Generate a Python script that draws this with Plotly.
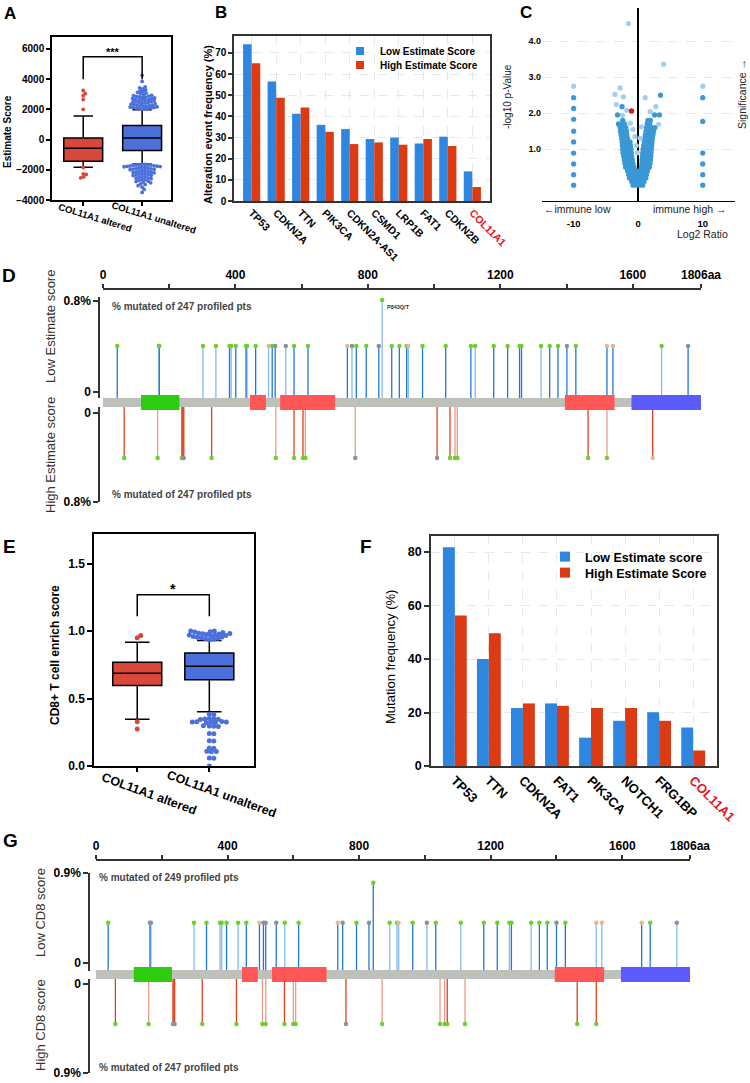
import plotly.graph_objects as go

W, H = 750, 1083
FONT = "Liberation Sans, Arial, Helvetica, sans-serif"


def fx(p):
    return p / W


def fy(p):
    return 1 - p / H


# ======================= DATA =======================
# ---- Panel A : ESTIMATE score (box summaries + outliers)
a_groups = ["COL11A1 altered", "COL11A1 unaltered"]
a_q1 = [-1440, -730]
a_median = [-580, 110]
a_q3 = [110, 930]
a_lowfence = [-1840, -1620]
a_upfence = [1555, 1980]
a_out_altered = [2000, 2650, 2900, 3050, 3250, -1850, -2280, -2310, -2470, -2530]
a_out_unaltered = [
    2030, 2050, 2060, 2080, 2010, 2090, 2130, 2150, 2170, 2120, 2190, 2230, 2260, 2210,
    2280, 2250, 2340, 2360, 2310, 2390, 2420, 2460, 2440, 2490, 2530, 2560, 2510, 2590,
    2620, 2650, 2680, 2640, 2730, 2760, 2710, 2780, 2830, 2860, 2810, 2880, 2930, 2960,
    2910, 3040, 3080, 3130, 3170, 3230, 3280, 3360, 3420, 3480, 3850, 4250,
    -1640, -1650, -1660, -1670, -1680, -1690, -1700, -1740, -1750, -1760, -1770, -1790,
    -1800, -1840, -1850, -1860, -1880, -1900, -1940, -1950, -1970, -1990, -2040, -2050,
    -2070, -2090, -2140, -2160, -2180, -2200, -2240, -2250, -2280, -2300, -2340, -2360,
    -2380, -2440, -2460, -2490, -2540, -2560, -2590, -2640, -2670, -2700, -2750, -2780,
    -2820, -2860, -2930, -2980, -3050, -3150, -3300, -3500]
a_sig = "***"
a_bracket = [4000, 5480]
a_yticks = [-4000, -2000, 0, 2000, 4000, 6000]

# ---- Panel B : alteration frequency
b_genes = ["TP53", "CDKN2A", "TTN", "PIK3CA", "CDKN2A-AS1", "CSMD1", "LRP1B", "FAT1", "CDKN2B", "COL11A1"]
b_low = [74.1, 56.5, 41.2, 36.0, 34.0, 29.3, 30.0, 27.2, 30.4, 14.0]
b_high = [65.1, 48.8, 44.2, 32.7, 26.9, 27.7, 26.6, 29.3, 26.0, 6.6]
b_series = ["Low Estimate Score", "High Estimate Score"]
b_yticks = [0, 10, 20, 30, 40, 50, 60, 70]

# ---- Panel C : volcano (log2 ratio, -log10 p)
vol_rows = [
    (0.00, [-0.8, -0.3, 0.2, 0.7]),
    (0.10, [-1.0, -0.5, 0.0, 0.5, 0.9]),
    (0.20, [-1.35, -0.9, -0.45, 0.0, 0.45, 0.85, 1.2]),
    (0.30, [-1.5, -1.05, -0.6, -0.15, 0.3, 0.75, 1.3]),
    (0.40, [-1.65, -1.2, -0.75, -0.3, 0.25, 0.7, 1.1, 1.45]),
    (0.50, [-1.95, -1.5, -1.05, -0.65, 0.5, 0.95, 1.35, 1.75]),
    (0.60, [-2.05, -1.6, -1.15, -0.8, 0.55, 1.0, 1.45, 1.85]),
    (0.70, [-2.15, -1.7, -1.25, -0.9, 0.6, 1.05, 1.5, 1.9]),
    (0.80, [-2.25, -1.8, -1.35, -1.0, 0.65, 1.1, 1.55, 1.95]),
    (0.90, [-2.35, -1.9, -1.45, -1.05, 0.7, 1.15, 1.6, 2.0]),
    (1.00, [-2.4, -1.95, -1.5, -1.1, 0.75, 1.2, 1.65, 2.05]),
    (1.10, [-2.45, -2.0, -1.55, -1.2, 0.85, 1.25, 1.7, 2.1]),
    (1.20, [-2.5, -2.05, -1.6, -1.25, 0.95, 1.35, 1.75, 2.15]),
    (1.30, [-2.55, -2.1, -1.65, 1.0, 1.4, 1.8, 2.2]),
    (1.40, [-2.65, -2.2, -1.75, 1.1, 1.5, 1.9, 2.3]),
    (1.50, [-2.75, -2.3, -1.8, 1.2, 1.6, 2.0, 2.4]),
    (1.60, [-2.8, -2.35, -1.9, 1.3, 1.7, 2.1, 2.6]),
    (1.70, [-3.05, -2.6, -2.1, 1.4, 1.8]),
    (1.80, [-2.4, 1.5, 1.9]),
    (1.95, [-3.2, 2.53, 3.3]),
]
vol_extra_x = [3.46, -2.5, -10, -10, -10, -10, -10, -10, -10, -10, -10, 10, 10, 10, 10, 10, 10]
vol_extra_y = [2.50, 2.18, 0.0, 0.29, 0.59, 0.89, 1.20, 1.50, 1.83, 2.13, 2.43, 0.0, 0.29, 0.59, 0.89, 1.77, 2.43]
vol_light_x = [-1.5, 3.93, -2.8, -3.6, -2.3, 1.08, -3.4, -1.76, 2.74, 1.86, -2.43, 3.15, -1.2, -0.8, -0.5,
               -0.3, 0.5, 0.3, -0.15, -10, 10]
vol_light_y = [4.49, 3.36, 2.70, 2.52, 2.45, 2.43, 2.24, 2.08, 2.18, 2.04, 1.94, 1.69, 1.72, 1.55, 1.35,
               1.10, 1.62, 1.30, 0.90, 2.75, 2.75]
vol_gene_x = [-1.03]   # COL11A1
vol_gene_y = [2.06]

# ---- Protein (COL11A1) domains, shared by D and G
prot_len = 1806
dom_start = [115, 444, 535, 1395, 1596]
dom_end = [231, 492, 701, 1545, 1806]
dom_color = ["#2ECC0E", "#FF5656", "#FF5656", "#FF5656", "#5B5BFF"]

# mutation class: M = missense (green), O = other (grey), I = inframe (tan)
# stem shade: d = dark, l = light
# ---- Panel D : lollipops, ESTIMATE groups
d_low_n = 247
d_low_pos = [43, 169, 170, 302, 341, 382, 387, 401, 432, 435,
             461, 500, 511, 520, 552, 577, 619, 738, 752, 765,
             795, 833, 843, 872, 895, 917, 922, 965, 1035, 1111,
             1124, 1180, 1222, 1258, 1264, 1323, 1349, 1374, 1401, 1428,
             1522, 1540, 1687, 1767]
d_low_cnt = [1, 1, 1, 1, 1, 1, 1, 1, 1, 1,
             1, 1, 1, 1, 1, 1, 1, 1, 1, 1,
             1, 1, 2, 1, 1, 1, 1, 1, 1, 1,
             1, 1, 1, 1, 1, 1, 1, 1, 1, 1,
             1, 1, 1, 1]
d_low_shade = list("dldlldlddl" "dlddldddld" "ddldddlddd" "lddddldddd" "ddld")
d_low_class = list("MOMMMMMMMM" "MIMOOMMIOM" "MOMMMMIMMM" "MMMMMMMMOM" "IIMO")
d_high_n = 247
d_high_pos = [64, 165, 238, 241, 244, 328, 522, 577, 604, 611,
              762, 1009, 1048, 1063, 1070, 1465, 1522, 1660]
d_high_cnt = [1, 1, 1, 1, 1, 1, 1, 1, 1, 1,
              1, 1, 1, 1, 1, 1, 1, 1]
d_high_shade = list("dlddddlddl" "lddlldld")
d_high_class = list("MMMMOMMMMM" "OOMMMMMI")
d_label = "P843Q/T"
d_label_pos = 843

# ---- Panel E : CD8+ T cell enrichment (box summaries + outliers)
e_groups = ["COL11A1 altered", "COL11A1 unaltered"]
e_q1 = [0.597, 0.639]
e_median = [0.687, 0.739]
e_q3 = [0.769, 0.838]
e_lowfence = [0.346, 0.403]
e_upfence = [0.918, 0.930]
e_out_altered = [0.950, 0.968, 0.328, 0.274]
e_out_unaltered = [
    1.000, 1.000, 0.995, 0.993, 0.990, 0.985, 0.983, 0.980, 0.978, 0.975, 0.972,
    0.970, 0.968, 0.965, 0.960, 0.957, 0.955, 0.950, 0.948, 0.945, 0.940, 0.936,
    0.383, 0.381, 0.352, 0.350, 0.348, 0.346, 0.344, 0.330, 0.328, 0.327, 0.326, 0.324, 0.322, 0.320,
    0.298, 0.296, 0.294, 0.292, 0.241, 0.239, 0.187, 0.185, 0.134, 0.132, 0.110, 0.108, 0.106, 0.060,
    0.058, 0.0]
e_sig = "*"
e_bracket = [1.11, 1.27]
e_yticks = [0.0, 0.5, 1.0, 1.5]

# ---- Panel F : mutation frequency
f_genes = ["TP53", "TTN", "CDKN2A", "FAT1", "PIK3CA", "NOTCH1", "FRG1BP", "COL11A1"]
f_low = [81.8, 40.0, 21.7, 23.4, 10.6, 16.9, 20.1, 14.4]
f_high = [56.3, 49.6, 23.4, 22.5, 21.7, 21.7, 16.9, 5.8]
f_series = ["Low Estimate score", "High Estimate Score"]
f_yticks = [0, 20, 40, 60, 80]

# ---- Panel G : lollipops, CD8 groups
g_low_n = 249
g_low_pos = [37, 164, 167, 298, 336, 377, 382, 397, 432, 457,
             497, 509, 516, 548, 574, 616, 735, 750, 792, 830,
             843, 893, 915, 920, 963, 1006, 1033, 1109, 1179, 1220,
             1257, 1263, 1323, 1348, 1372, 1400, 1427, 1521, 1538, 1659,
             1685, 1766]
g_low_cnt = [1, 1, 1, 1, 1, 1, 1, 1, 1, 1,
             1, 1, 1, 1, 1, 1, 1, 1, 1, 1,
             2, 1, 1, 1, 1, 1, 1, 1, 1, 1,
             1, 1, 1, 1, 1, 1, 1, 1, 1, 1,
             1, 1]
g_low_shade = list("ddlldlldld" "ddddlddddd" "dllldldldd" "ldlddddlld" "dl")
g_low_class = list("MOOMMMMMMM" "IOOOMMIOMO" "MMMIMOMMMM" "MMMMMOMIII" "MO")
g_high_n = 247
g_high_pos = [59, 160, 234, 237, 239, 323, 427, 506, 516, 573,
              600, 607, 760, 870, 1046, 1060, 1068, 1122, 1463, 1521]
g_high_cnt = [1, 1, 1, 1, 1, 1, 1, 1, 1, 1,
              1, 1, 1, 1, 1, 1, 1, 1, 1, 1]
g_high_shade = list("dldddddlld" "lldllldldd")
g_high_class = list("MMMOOMMMMM" "MMOMMMMMMM")

aa_ticks = [0, 200, 400, 600, 800, 1000, 1200, 1400, 1600, 1806]
aa_ticktext = ["0", "", "400", "", "800", "", "1200", "", "1600", "1806aa"]

# ======================= STYLE =======================
BAR_BLUE = "#2E86E0"
BAR_RED = "#DC3A12"
BOX_RED = "#D8473A"
BOX_BLUE = "#4B70DC"
VOL_DARK = "#3A98D6"
VOL_LIGHT = "#A3CFEE"
VOL_RED = "#E8141B"
STEM = {"low": {"d": "#1E78DC", "l": "#83BAF0"}, "high": {"d": "#E0401A", "l": "#EE9A86"}}
DOT = {"M": "#6CD12A", "O": "#8A909C", "I": "#E3B98F"}
GRID = "#E4E7EB"
AX = "#333333"


def swarm(values, center, median, sx, sy, d, overlap=0.97, step=0.5):
    """Beeswarm layout: horizontal offsets so that markers do not overlap (pixel space)."""
    placed = []
    out = [0.0] * len(values)
    lim = (d * overlap) ** 2
    order = sorted(range(len(values)), key=lambda i: abs(values[i] - median))
    for i in order:
        yp = values[i] * sy
        k = 0
        while True:
            cands = [0.0] if k == 0 else [k * step, -k * step]
            ok = None
            for c in cands:
                if all((c - px) ** 2 + (yp - py) ** 2 >= lim for px, py in placed):
                    ok = c
                    break
            if ok is not None:
                break
            k += 1
        placed.append((ok, yp))
        out[i] = center + ok / sx
    return out


fig = go.Figure()
ann = []


def text(x, y, s, size, bold=False, angle=0, color="black", xanchor="center", yanchor="middle",
         xref="paper", yref="paper", xshift=0, yshift=0):
    ann.append(dict(x=x, y=y, xref=xref, yref=yref, text=s, showarrow=False, textangle=angle,
                    xanchor=xanchor, yanchor=yanchor, xshift=xshift, yshift=yshift,
                    font=dict(size=size, color=color, family=FONT, weight="bold" if bold else "normal")))


# ======================= PANEL A =======================
A_L, A_R, A_T, A_B = 52, 171, 37, 200
a_xr = [-0.53, 1.49]
a_yr = [-4000, 6790]
a_sx = (A_R - A_L) / (a_xr[1] - a_xr[0])
a_sy = (A_B - A_T) / (a_yr[1] - a_yr[0])
for i, col in enumerate([BOX_RED, BOX_BLUE]):
    fig.add_trace(go.Box(x=[i], q1=[a_q1[i]], median=[a_median[i]], q3=[a_q3[i]],
                         lowerfence=[a_lowfence[i]], upperfence=[a_upfence[i]], width=0.66, whiskerwidth=0.5,
                         fillcolor=col, line=dict(color="black", width=1.5), boxpoints=False,
                         name=a_groups[i], showlegend=False, xaxis="x", yaxis="y"))
for i, (vals, col) in enumerate([(a_out_altered, BOX_RED), (a_out_unaltered, BOX_BLUE)]):
    xs = swarm(vals, i, a_median[i], a_sx, a_sy, 3.6, overlap=0.8)
    fig.add_trace(go.Scatter(x=xs, y=vals, mode="markers", marker=dict(size=3.8, color=col),
                             showlegend=False, xaxis="x", yaxis="y"))
fig.add_trace(go.Scatter(x=[0, 0, 1, 1], y=[a_bracket[0], a_bracket[1], a_bracket[1], a_bracket[0]],
                         mode="lines", line=dict(color="black", width=1.5), showlegend=False,
                         xaxis="x", yaxis="y"))
text(0.5, a_bracket[1], a_sig, 11, True, xref="x", yref="y", yanchor="bottom", yshift=-3)
for i, g in enumerate(a_groups):
    text(i, fy(218), g, 9.5, True, angle=17, xref="x", xshift=12)
text(fx(8), fy(132), "Estimate Score", 10, True, angle=-90)

# ======================= PANEL B =======================
B_L, B_R, B_T, B_B = 234, 490, 36, 201
fig.add_trace(go.Bar(x=b_genes, y=b_low, marker=dict(color=BAR_BLUE, line=dict(width=0)), name=b_series[0],
                     showlegend=False, xaxis="x2", yaxis="y2"))
fig.add_trace(go.Bar(x=b_genes, y=b_high, marker=dict(color=BAR_RED, line=dict(width=0)), name=b_series[1],
                     showlegend=False, xaxis="x2", yaxis="y2"))
fig.add_trace(go.Scatter(x=[None], y=[None], mode="markers", name=b_series[0],
                         marker=dict(symbol="square", size=8, color=BAR_BLUE), xaxis="x2", yaxis="y2",
                         legend="legend"))
fig.add_trace(go.Scatter(x=[None], y=[None], mode="markers", name=b_series[1],
                         marker=dict(symbol="square", size=8, color=BAR_RED), xaxis="x2", yaxis="y2",
                         legend="legend2"))
text(fx(208), fy(125), "Alteration event frequency (%)", 11, True, angle=-90)

# ======================= PANEL C =======================
C_L, C_R, C_T, C_B = 542, 735, 8, 201
vol_x = [x for yv, xs in vol_rows for x in xs] + vol_extra_x
vol_y = [yv for yv, xs in vol_rows for x in xs] + vol_extra_y
fig.add_trace(go.Scatter(x=vol_x, y=vol_y, mode="markers", marker=dict(size=5.2, color=VOL_DARK),
                         showlegend=False, xaxis="x3", yaxis="y3", cliponaxis=False))
fig.add_trace(go.Scatter(x=vol_light_x, y=vol_light_y, mode="markers", marker=dict(size=5.2, color=VOL_LIGHT),
                         showlegend=False, xaxis="x3", yaxis="y3", cliponaxis=False))
fig.add_trace(go.Scatter(x=vol_gene_x, y=vol_gene_y, mode="markers", marker=dict(size=5.5, color=VOL_RED),
                         showlegend=False, xaxis="x3", yaxis="y3", cliponaxis=False))
text(fx(507), fy(97), "-log10 p-Value", 10, False, angle=-90, color="#222")
text(fx(742), fy(94), "Significance \u2192", 10.5, False, angle=-90, color="#222")
text(fx(577), fy(209), "\u2190immune low", 10.5, False, color="#222")
text(fx(690), fy(209), "immune high \u2192", 10.5, False, color="#222")
text(fx(702), fy(234), "Log2 Ratio", 10.5, False, color="#222")


# ======================= LOLLIPOP helpers =======================
def lollipop(pos, cnt, shade, klass, n, side, base, xa, ya):
    for sh in ["l", "d"]:
        xs, ys = [], []
        for p, c, s in zip(pos, cnt, shade):
            if s == sh:
                xs += [p, p, None]
                ys += [base, 100.0 * c / n, None]
        fig.add_trace(go.Scatter(x=xs, y=ys, mode="lines", line=dict(color=STEM[side][sh], width=1.3),
                                 showlegend=False, xaxis=xa, yaxis=ya, hoverinfo="skip"))
    fig.add_trace(go.Scatter(x=pos, y=[100.0 * c / n for c in cnt], mode="markers",
                             marker=dict(size=4.5, color=[DOT[k] for k in klass]),
                             showlegend=False, xaxis=xa, yaxis=ya, cliponaxis=False))


def protein(xa, ya):
    fig.add_trace(go.Bar(y=[0.5], x=[prot_len], base=[0], orientation="h", width=0.6, offset=-0.3,
                         marker=dict(color="#BEC0BA", line=dict(width=0)), showlegend=False,
                         xaxis=xa, yaxis=ya))
    fig.add_trace(go.Bar(y=[0.5] * len(dom_start), x=[e - s for s, e in zip(dom_start, dom_end)],
                         base=dom_start, orientation="h", width=1.0, offset=-0.5,
                         marker=dict(color=dom_color, line=dict(width=0)), showlegend=False,
                         xaxis=xa, yaxis=ya))


# ======================= PANEL D =======================
D_AX_Y = 289
D_ZERO_LOW, D_TOP_LOW = 392, 301      # pixel rows of 0 and 0.8 %
D_LOW_T, D_LOW_B = 297, 398
D_ZERO_HIGH, D_BOT_HIGH = 413, 502
D_HIGH_T, D_HIGH_B = 407, 502
d_low_k = 0.8 / (D_ZERO_LOW - D_TOP_LOW)
d_low_range = [-(D_LOW_B - D_ZERO_LOW) * d_low_k, (D_ZERO_LOW - D_LOW_T) * d_low_k]
d_high_k = 0.8 / (D_BOT_HIGH - D_ZERO_HIGH)
d_high_range = [(D_HIGH_B - D_ZERO_HIGH) * d_high_k, -(D_ZERO_HIGH - D_HIGH_T) * d_high_k]
lollipop(d_low_pos, d_low_cnt, d_low_shade, d_low_class, d_low_n, "low", d_low_range[0], "x4", "y4")
lollipop(d_high_pos, d_high_cnt, d_high_shade, d_high_class, d_high_n, "high", d_high_range[1], "x4", "y5")
protein("x4", "y6")
text(d_label_pos, 100.0 * 2 / d_low_n, d_label, 5.5, True, color="#333", xref="x4", yref="y4",
     xanchor="left", xshift=3, yshift=-7)
text(fx(110), fy(307), "% mutated of 247 profiled pts", 10, True, color="#444", xanchor="left")
text(fx(110), fy(494), "% mutated of 247 profiled pts", 10, True, color="#444", xanchor="left")
text(fx(50), fy(327), "Low Estimate score", 13, False, angle=-90, color="#333")
text(fx(50), fy(455), "High Estimate score", 13, False, angle=-90, color="#333")

# ======================= PANEL E =======================
E_L, E_R, E_T, E_B = 94, 254, 534, 766
e_xr = [-0.6, 1.62]
e_yr = [0, 1.72]
e_sx = (E_R - E_L) / (e_xr[1] - e_xr[0])
e_sy = (E_B - E_T) / (e_yr[1] - e_yr[0])
for i, col in enumerate([BOX_RED, BOX_BLUE]):
    fig.add_trace(go.Box(x=[i], q1=[e_q1[i]], median=[e_median[i]], q3=[e_q3[i]],
                         lowerfence=[e_lowfence[i]], upperfence=[e_upfence[i]], width=0.68, whiskerwidth=0.5,
                         fillcolor=col, line=dict(color="black", width=1.5), boxpoints=False,
                         name=e_groups[i], showlegend=False, xaxis="x5", yaxis="y7"))
for i, (vals, col) in enumerate([(e_out_altered, BOX_RED), (e_out_unaltered, BOX_BLUE)]):
    xs = swarm(vals, i, e_median[i], e_sx, e_sy, 4.6, overlap=0.88)
    fig.add_trace(go.Scatter(x=xs, y=vals, mode="markers", marker=dict(size=5, color=col),
                             showlegend=False, xaxis="x5", yaxis="y7", cliponaxis=False))
fig.add_trace(go.Scatter(x=[0, 0, 1, 1], y=[e_bracket[0], e_bracket[1], e_bracket[1], e_bracket[0]],
                         mode="lines", line=dict(color="black", width=1.5), showlegend=False,
                         xaxis="x5", yaxis="y7"))
text(0.5, e_bracket[1], e_sig, 14, True, xref="x5", yref="y7", yanchor="bottom", yshift=-4)
for i, g in enumerate(e_groups):
    text(i, fy(794), g, 12.5, True, angle=20, xref="x5", xshift=12)
text(fx(55), fy(655), "CD8+ T cell enrich score", 12, True, angle=-90)

# ======================= PANEL F =======================
F_L, F_R, F_T, F_B = 431, 717, 536, 766
fig.add_trace(go.Bar(x=f_genes, y=f_low, marker=dict(color=BAR_BLUE, line=dict(width=0)), name=f_series[0],
                     showlegend=False, xaxis="x6", yaxis="y8"))
fig.add_trace(go.Bar(x=f_genes, y=f_high, marker=dict(color=BAR_RED, line=dict(width=0)), name=f_series[1],
                     showlegend=False, xaxis="x6", yaxis="y8"))
fig.add_trace(go.Scatter(x=[None], y=[None], mode="markers", name=f_series[0],
                         marker=dict(symbol="square", size=10, color=BAR_BLUE), xaxis="x6", yaxis="y8",
                         legend="legend3"))
fig.add_trace(go.Scatter(x=[None], y=[None], mode="markers", name=f_series[1],
                         marker=dict(symbol="square", size=10, color=BAR_RED), xaxis="x6", yaxis="y8",
                         legend="legend4"))
text(fx(390), fy(657), "Mutation frequency (%)", 13, False, angle=-90)

# ======================= PANEL G =======================
G_AX_Y = 860
G_ZERO_LOW, G_TOP_LOW = 963, 873
G_LOW_T, G_LOW_B = 873, 971
G_ZERO_HIGH, G_BOT_HIGH = 984, 1073
G_HIGH_T, G_HIGH_B = 979, 1073
g_low_k = 0.9 / (G_ZERO_LOW - G_TOP_LOW)
g_low_range = [-(G_LOW_B - G_ZERO_LOW) * g_low_k, (G_ZERO_LOW - G_LOW_T) * g_low_k]
g_high_k = 0.9 / (G_BOT_HIGH - G_ZERO_HIGH)
g_high_range = [(G_HIGH_B - G_ZERO_HIGH) * g_high_k, -(G_ZERO_HIGH - G_HIGH_T) * g_high_k]
lollipop(g_low_pos, g_low_cnt, g_low_shade, g_low_class, g_low_n, "low", g_low_range[0], "x7", "y9")
lollipop(g_high_pos, g_high_cnt, g_high_shade, g_high_class, g_high_n, "high", g_high_range[1], "x7", "y10")
protein("x7", "y11")
text(fx(97), fy(877), "% mutated of 249 profiled pts", 10, True, color="#444", xanchor="left")
text(fx(97), fy(1067), "% mutated of 247 profiled pts", 10, True, color="#444", xanchor="left")
text(fx(40), fy(913), "Low CD8 score", 13, False, angle=-90, color="#333")
text(fx(40), fy(1025), "High CD8 score", 13, False, angle=-90, color="#333")

# ======================= PANEL LETTERS =======================
for letter, x, y, s in [("A", 10, 14, 17), ("B", 221, 13, 17), ("C", 526, 13, 17), ("D", 9, 275, 19),
                        ("E", 9, 546, 19), ("F", 366, 546, 19), ("G", 10, 840, 19)]:
    text(fx(x), fy(y), letter, s, True)


# ======================= AXES =======================
def box_axis(**kw):
    base = dict(showline=True, mirror=True, linecolor=AX, linewidth=1.5, showgrid=False, zeroline=False,
                tickcolor=AX, tickwidth=1.5, tickfont=dict(family=FONT, size=10, color="black", weight="bold"))
    base.update(kw)
    return base


def col_ticktext(genes):
    return [('<span style="color:#E8141B">%s</span>' % g) if g == "COL11A1" else g for g in genes]


def lolli_y(domain, rng, pos, top):
    return dict(domain=domain, range=rng, anchor="free", position=pos,
                showline=True, linecolor=AX, linewidth=1.5, ticks="outside", ticklen=5, tickwidth=1.5,
                tickcolor=AX, tickvals=[0, top], ticktext=["0", "%g%%" % top], showgrid=False, zeroline=False,
                tickfont=dict(family=FONT, size=12, color="black", weight="bold"))


def lolli_x(domain, ypos):
    return dict(domain=domain, range=[0, prot_len], anchor="free", position=ypos, side="top",
                showline=True, linecolor=AX, linewidth=1.5, ticks="outside", ticklen=4, tickwidth=1.5,
                tickcolor=AX, tickvals=aa_ticks, ticktext=aa_ticktext, showgrid=False, zeroline=False,
                tickfont=dict(family=FONT, size=12, color="black", weight="bold"))


layout_axes = dict(
    xaxis=box_axis(domain=[fx(A_L), fx(A_R)], range=a_xr, anchor="y", ticks="outside", ticklen=4,
                   tickvals=[0, 1], showticklabels=False, linecolor="black", tickcolor="black"),
    yaxis=box_axis(domain=[fy(A_B), fy(A_T)], range=a_yr, anchor="x", ticks="outside", ticklen=4,
                   tickvals=a_yticks, linecolor="black", tickcolor="black"),
    xaxis2=box_axis(domain=[fx(B_L), fx(B_R)], range=[-0.72, 9.72], anchor="y2", type="category",
                    tickvals=b_genes, ticktext=col_ticktext(b_genes), tickangle=45, ticks="",
                    showgrid=True, gridcolor=GRID, griddash="dash",
                    tickfont=dict(family=FONT, size=10.5, color="black", weight="bold")),
    yaxis2=box_axis(domain=[fy(B_B), fy(B_T)], range=[0, 78], anchor="x2", ticks="outside", ticklen=4,
                    tickvals=b_yticks, showgrid=True, gridcolor=GRID, griddash="dash"),
    xaxis3=dict(domain=[fx(C_L), fx(C_R)], range=[-14.9, 15], anchor="y3", showline=True, linecolor="black",
                linewidth=1.3, zeroline=True, zerolinecolor="black", zerolinewidth=1.5, showgrid=False,
                tickvals=[-10, 0, 10], ticktext=["-10", "0", "10"], ticks="", ticklabelstandoff=13,
                tickfont=dict(family=FONT, size=9.5, color="black", weight="bold")),
    yaxis3=dict(domain=[fy(C_B), fy(C_T)], range=[-0.44, 4.92], anchor="x3", showline=False, zeroline=False,
                showgrid=True, gridcolor=GRID, griddash="dash", tickvals=[1, 2, 3, 4],
                ticktext=["1.0", "2.0", "3.0", "4.0"], ticks="",
                tickfont=dict(family=FONT, size=9, color="black", weight="bold")),
    xaxis4=lolli_x([fx(103), fx(701)], fy(D_AX_Y)),
    yaxis4=lolli_y([fy(D_LOW_B), fy(D_LOW_T)], d_low_range, fx(99), 0.8),
    yaxis5=lolli_y([fy(D_HIGH_B), fy(D_HIGH_T)], d_high_range, fx(99), 0.8),
    yaxis6=dict(domain=[fy(410), fy(395)], range=[0, 1], anchor="x4", visible=False),
    xaxis5=box_axis(domain=[fx(E_L), fx(E_R)], range=e_xr, anchor="y7", ticks="outside", ticklen=4,
                    tickvals=[0, 1], showticklabels=False, linecolor="black", tickcolor="black"),
    yaxis7=box_axis(domain=[fy(E_B), fy(E_T)], range=e_yr, anchor="x5", ticks="outside", ticklen=5,
                    tickvals=e_yticks, ticktext=["%.1f" % v for v in e_yticks], linecolor="black",
                    tickcolor="black", tickfont=dict(family=FONT, size=12, color="black", weight="bold")),
    xaxis6=box_axis(domain=[fx(F_L), fx(F_R)], range=[-0.7, 7.7], anchor="y8", type="category",
                    tickvals=f_genes, ticktext=col_ticktext(f_genes), tickangle=45, ticks="",
                    showgrid=True, gridcolor=GRID, griddash="dash",
                    tickfont=dict(family=FONT, size=13, color="black", weight="bold")),
    yaxis8=box_axis(domain=[fy(F_B), fy(F_T)], range=[0, 86], anchor="x6", ticks="outside", ticklen=5,
                    tickvals=f_yticks, showgrid=True, gridcolor=GRID, griddash="dash",
                    tickfont=dict(family=FONT, size=12.5, color="black", weight="bold")),
    xaxis7=lolli_x([fx(96), fx(690)], fy(G_AX_Y)),
    yaxis9=lolli_y([fy(G_LOW_B), fy(G_LOW_T)], g_low_range, fx(89), 0.9),
    yaxis10=lolli_y([fy(G_HIGH_B), fy(G_HIGH_T)], g_high_range, fx(89), 0.9),
    yaxis11=dict(domain=[fy(982), fy(967)], range=[0, 1], anchor="x7", visible=False),
)


def leg(x, y, size):
    return dict(x=fx(x), y=fy(y), xanchor="left", yanchor="middle", bgcolor="rgba(0,0,0,0)",
                borderwidth=0, itemwidth=30,
                font=dict(family=FONT, size=size, color="black", weight="bold"))


fig.update_layout(
    width=W, height=H, autosize=False, template="none",
    margin=dict(l=0, r=0, t=0, b=0, pad=0),
    paper_bgcolor="white", plot_bgcolor="rgba(0,0,0,0)",
    font=dict(family=FONT, color="black"),
    barmode="group", bargap=0.3, bargroupgap=0.0,
    showlegend=True,
    legend=leg(340, 51, 10), legend2=leg(340, 65, 10),
    legend3=leg(545, 557, 12.5), legend4=leg(545, 573, 12.5),
    annotations=ann,
    **layout_axes,
)

fig.write_html("out.html")
